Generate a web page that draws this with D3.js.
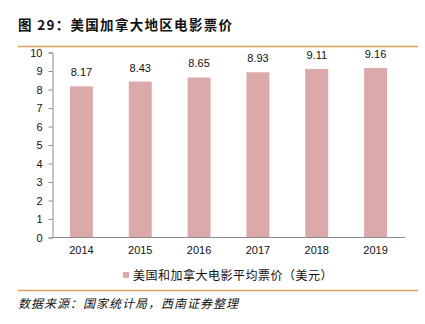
<!DOCTYPE html>
<html>
<head>
<meta charset="utf-8">
<script src="https://cdn.jsdelivr.net/npm/d3@7"></script>
<style>
  html, body { margin: 0; padding: 0; background: #fff; }
  svg { display: block; }
</style>
</head>
<body>
<svg id="chart" width="425" height="324"></svg>
<script>
// Average ticket price, US & Canada (USD)
const years = ["2014", "2015", "2016", "2017", "2018", "2019"];
const prices = [8.17, 8.43, 8.65, 8.93, 9.11, 9.16];
const yTicks = [0, 1, 2, 3, 4, 5, 6, 7, 8, 9, 10];
const titleText = "图 29：美国加拿大地区电影票价";
const legendText = "美国和加拿大电影平均票价（美元）";
const sourceText = "数据来源：国家统计局，西南证券整理";

const svg = d3.select("#chart");
const cjk = "'Noto Sans CJK SC', 'Noto Sans', sans-serif";
const latin = "'Liberation Sans', Arial, sans-serif";
const barColor = "#dba9a9";
const ruleColor = "#d9a35a";
const axisColor = "#8c8c8c";

// header
svg.append("text")
  .attr("x", 18).attr("y", 30)
  .attr("font-family", cjk).attr("font-weight", "bold")
  .attr("font-size", 13.5).attr("letter-spacing", 1.3).attr("fill", "#111")
  .text(titleText);
svg.append("line")
  .attr("x1", 18).attr("x2", 418).attr("y1", 46.5).attr("y2", 46.5)
  .attr("stroke", ruleColor).attr("stroke-width", 1.3);

// scales
const x = d3.scaleBand().domain(years).range([52, 405]).paddingInner(0.61).paddingOuter(0.305);
const y = d3.scaleLinear().domain([0, 10]).range([237.5, 52.5]);

// y axis
const yAxis = svg.append("g").attr("transform", "translate(52.5,0)")
  .call(d3.axisLeft(y).tickValues(yTicks).tickSize(4).tickPadding(6));
yAxis.select(".domain").attr("stroke", axisColor);
yAxis.selectAll(".tick line").attr("stroke", axisColor);
yAxis.selectAll(".tick text").attr("font-family", latin).attr("font-size", 11).attr("fill", "#111");

// bars
svg.append("g").selectAll("rect").data(prices).join("rect")
  .attr("x", (d, i) => x(years[i]))
  .attr("y", d => y(d))
  .attr("width", x.bandwidth())
  .attr("height", d => y(0) - y(d))
  .attr("fill", barColor);

// value labels
svg.append("g").selectAll("text").data(prices).join("text")
  .attr("x", (d, i) => x(years[i]) + x.bandwidth() / 2)
  .attr("y", d => y(d) - 10)
  .attr("text-anchor", "middle")
  .attr("font-family", latin).attr("font-size", 11).attr("fill", "#111")
  .text(d => d.toFixed(2));

// x axis
const xAxis = svg.append("g").attr("transform", "translate(0,237.5)")
  .call(d3.axisBottom(x).tickSize(0).tickPadding(9));
xAxis.select(".domain").attr("stroke", axisColor).attr("d", "M52.5,0H405");
xAxis.selectAll(".tick text").attr("font-family", latin).attr("font-size", 11).attr("fill", "#111");

// legend
svg.append("rect").attr("x", 123).attr("y", 272).attr("width", 6).attr("height", 6).attr("fill", barColor);
svg.append("text")
  .attr("x", 133).attr("y", 280)
  .attr("font-family", cjk).attr("font-size", 12).attr("letter-spacing", 0.5).attr("fill", "#111")
  .text(legendText);

// footer
svg.append("line")
  .attr("x1", 18).attr("x2", 418).attr("y1", 290.5).attr("y2", 290.5)
  .attr("stroke", ruleColor).attr("stroke-width", 1.3);
svg.append("text")
  .attr("x", 18).attr("y", 308)
  .attr("font-family", cjk).attr("font-style", "italic")
  .attr("font-size", 12).attr("letter-spacing", 1).attr("fill", "#111")
  .text(sourceText);
</script>
</body>
</html>
